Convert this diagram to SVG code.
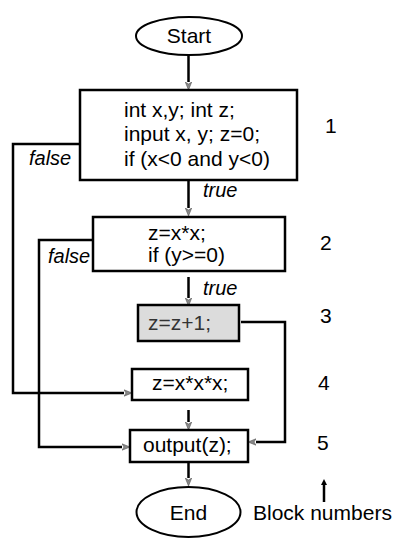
<svg xmlns="http://www.w3.org/2000/svg" width="398" height="539" viewBox="0 0 398 539">
<style>
.box{fill:#fff;stroke:#000;stroke-width:2.5}
.gbox{fill:#dcdcdc;stroke:#000;stroke-width:2.5}
.term{fill:#fff;stroke:#000;stroke-width:2}
.t{font-family:"Liberation Sans",Arial,sans-serif;font-size:21px;fill:#000}
.i{font-family:"Liberation Sans",Arial,sans-serif;font-size:20px;font-style:italic;fill:#000}
.c{fill:none;stroke:#000;stroke-width:2.5}
</style>
<defs>
<marker id="ah" markerUnits="userSpaceOnUse" markerWidth="10" markerHeight="10" viewBox="0 -5 10 10" refX="0" refY="0" orient="auto">
<path d="M0,-3.2 L8,0 L0,3.2 L2,0 z" fill="#888" stroke="#555" stroke-width="0.6"/>
</marker>
<marker id="bh" markerUnits="userSpaceOnUse" markerWidth="10" markerHeight="10" viewBox="0 -5 10 10" refX="0" refY="0" orient="auto">
<path d="M0,-3 L6,0 L0,3 z" fill="#000"/>
</marker>
</defs>
<g id="connectors">
<path class="c" d="M188.5,55 V82" marker-end="url(#ah)"/>
<path class="c" d="M188.5,180 V208" marker-end="url(#ah)"/>
<path class="c" d="M188.5,277 V298" marker-end="url(#ah)"/>
<path class="c" d="M188.5,410 V422" marker-end="url(#ah)"/>
<path class="c" d="M188.5,462 V478" marker-end="url(#ah)"/>
<path class="c" d="M80,144 H13 V393 H124" marker-end="url(#ah)"/>
<path class="c" d="M93,240 H39 V447 H122" marker-end="url(#ah)"/>
<path class="c" d="M241,322 H285 V442 H256" marker-end="url(#ah)"/>
<text class="i" x="29" y="165">false</text>
<text class="i" x="48" y="263">false</text>
<text class="i" x="203" y="197">true</text>
<text class="i" x="203" y="295">true</text>
</g>
<g id="start">
<ellipse class="term" cx="189" cy="36" rx="53" ry="19"/>
<text class="t" x="189" y="43" text-anchor="middle">Start</text>
</g>
<g id="block1">
<rect class="box" x="80" y="90" width="217" height="90"/>
<text class="t" x="124" y="117">int x,y; int z;</text>
<text class="t" x="124" y="141">input x, y; z=0;</text>
<text class="t" x="124" y="166">if (x&lt;0 and y&lt;0)</text>
</g>
<g id="block2">
<rect class="box" x="93" y="217" width="192" height="54"/>
<text class="t" x="148" y="240">z=x*x;</text>
<text class="t" x="148" y="262">if (y&gt;=0)</text>
</g>
<g id="block3">
<rect class="gbox" x="138" y="305" width="101" height="36"/>
<text class="t" x="148" y="330" style="fill:#333">z=z+1;</text>
</g>
<g id="block4">
<rect class="box" x="132" y="369" width="116" height="31"/>
<text class="t" x="152" y="390">z=x*x*x;</text>
</g>
<g id="block5">
<rect class="box" x="130" y="430" width="118" height="32"/>
<text class="t" x="143" y="452">output(z);</text>
</g>
<g id="end">
<ellipse class="term" cx="188.5" cy="512" rx="52" ry="25"/>
<text class="t" x="188.5" y="520" text-anchor="middle">End</text>
</g>
<g id="numbers">
<text class="t" x="325" y="133">1</text>
<text class="t" x="320" y="250">2</text>
<text class="t" x="320" y="323">3</text>
<text class="t" x="318" y="390">4</text>
<text class="t" x="317" y="450">5</text>
<path d="M324,502 V485" stroke="#000" stroke-width="2.5" fill="none" marker-end="url(#bh)"/>
<text class="t" x="253" y="520">Block numbers</text>
</g>
</svg>
